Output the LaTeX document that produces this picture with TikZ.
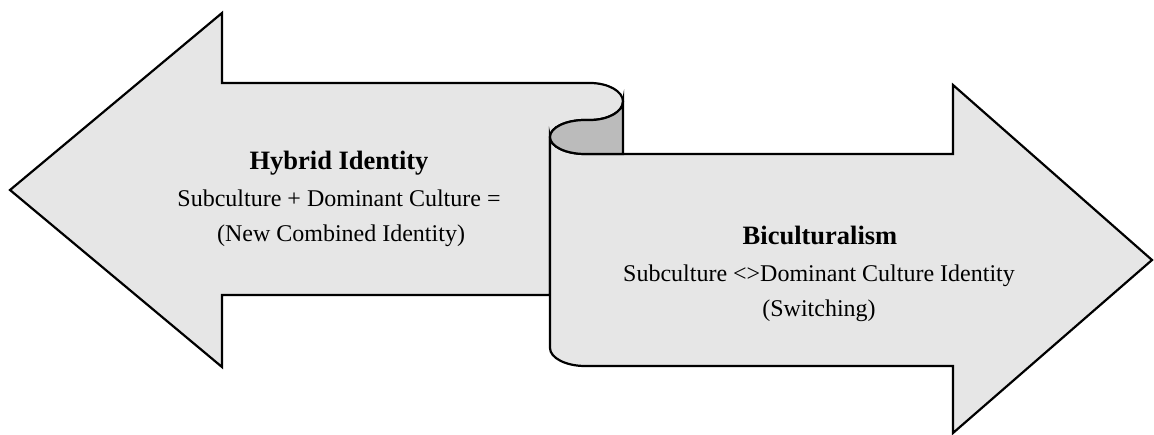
\documentclass[tikz,border=0pt]{standalone}
\usepackage{fontspec}
\setmainfont{Liberation Serif}
\definecolor{lightfill}{RGB}{230,230,230}
\definecolor{darkfill}{RGB}{187,187,187}
\tikzset{
  shapeline/.style={draw=black, line width=2.2pt, line join=miter, miter limit=20},
  titletext/.style={anchor=base, inner sep=0pt, font=\fontsize{26.5}{32}\selectfont\bfseries},
  bodytext/.style={anchor=base, inner sep=0pt, font=\fontsize{24}{30}\selectfont}
}
\begin{document}
\begin{tikzpicture}[x=1pt,y=-1pt]
\useasboundingbox (0,0) rectangle (1154,435);
% left arrow (Hybrid Identity)
\path[shapeline, fill=lightfill]
  (550,295) -- (222,295) -- (222,367) -- (10,190) -- (222,13) -- (222,83) -- (590,83)
  .. controls (608.2,83) and (623,91.3) .. (623,101.5)
  .. controls (623,111.7) and (608.2,120) .. (590,120)
  -- (585,120)
  .. controls (565.7,120) and (550,127.6) .. (550,137)
  -- cycle;
% right arrow (Biculturalism)
\path[shapeline, fill=lightfill]
  (550,137) .. controls (550,146.4) and (565.7,154) .. (585,154)
  -- (953,154) -- (953,85) -- (1152,260) -- (953,433) -- (953,366) -- (585,366)
  .. controls (566,366) and (550,358) .. (550,348)
  -- cycle;
% inner curl of the scroll
\path[shapeline, fill=darkfill]
  (623,101.5) .. controls (623,111.7) and (608.2,120) .. (590,120)
  -- (585,120)
  .. controls (565.7,120) and (550,127.6) .. (550,137)
  .. controls (550,146.4) and (565.7,154) .. (585,154)
  -- (623,154) -- cycle;
% texts
\node[titletext] (hybridTitle) at (339,170) {Hybrid Identity};
\node[bodytext] (hybridLineA) at (339,207) {Subculture + Dominant Culture =};
\node[bodytext] (hybridLineB) at (341,242) {(New Combined Identity)};
\node[titletext] (biTitle) at (820,245) {Biculturalism};
\node[bodytext] (biLineA) at (819,282) {Subculture \textless\textgreater Dominant Culture Identity};
\node[bodytext] (biLineB) at (819,317) {(Switching)};
\end{tikzpicture}
\end{document}
